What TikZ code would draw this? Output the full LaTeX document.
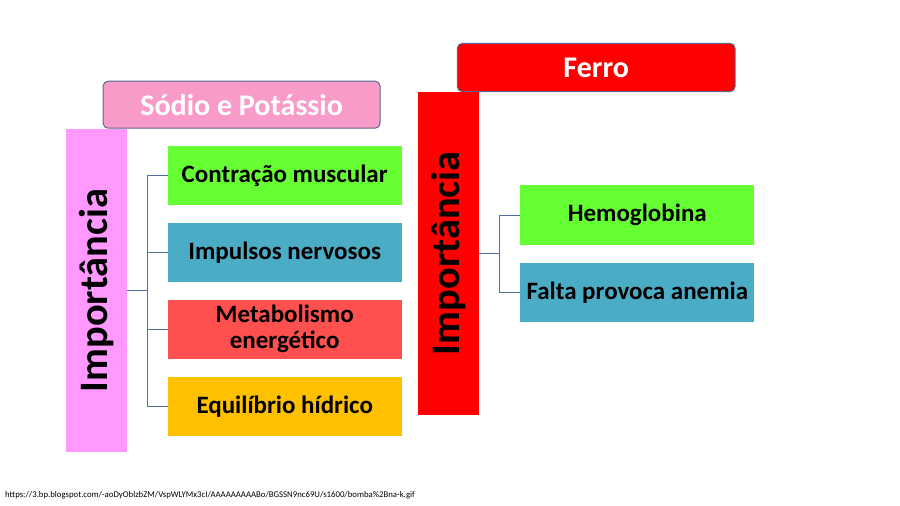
\documentclass[tikz,border=0pt]{standalone}
\usepackage{fontspec}
\setmainfont{Carlito}
\definecolor{pinkT}{HTML}{F99BC9}
\definecolor{pinkBar}{HTML}{FF99FF}
\definecolor{greenB}{HTML}{66FF33}
\definecolor{tealB}{HTML}{4BACC6}
\definecolor{redB}{HTML}{FF5050}
\definecolor{yellowB}{HTML}{FFC000}
\definecolor{redF}{HTML}{FF0000}
\definecolor{edgeT}{HTML}{56698E}
\definecolor{lineC}{HTML}{4F6D9E}
\tikzset{
  titlebox/.style={draw=edgeT, line width=1pt, rounded corners=5pt, text=white,
    font=\bfseries\fontsize{30}{32}\selectfont, inner sep=0pt},
  barbox/.style={rotate=90, minimum width=323pt, minimum height=60.7pt, inner sep=0pt,
    font=\bfseries\fontsize{40.4}{42}\selectfont, text=black},
  itembox/.style={minimum width=234pt, minimum height=59.5pt, inner sep=0pt, align=center,
    font=\bfseries\fontsize{25}{26}\selectfont, text=black},
  conn/.style={draw=lineC, line width=0.9pt}
}
\begin{document}
\begin{tikzpicture}[x=1pt,y=-1pt]
\useasboundingbox[fill=white] (0,0) rectangle (900,506);
% left group
\node[titlebox, fill=pinkT, minimum width=277pt, minimum height=47pt] (tS) at (241.6,104.7) {Sódio e Potássio};
\node[barbox, fill=pinkBar] (bL) at (96.3,290.5) {Importância};
\node[itembox, fill=greenB] (c1) at (284.7,175.5) {Contração muscular};
\node[itembox, fill=tealB] (c2) at (284.7,252.3) {Impulsos nervosos};
\node[itembox, fill=redB] (c3) at (284.7,329.3) {Metabolismo\\energético};
\node[itembox, fill=yellowB] (c4) at (284.7,406.5) {Equilíbrio hídrico};
\coordinate (jL) at (147.3,290.5);
\draw[conn] (bL.south) -- (jL);
\draw[conn] (jL |- c1.west) -- (jL |- c4.west);
\foreach \n in {c1,c2,c3,c4} \draw[conn] (jL |- \n.west) -- (\n.west);
% right group
\node[titlebox, fill=redF, minimum width=277.7pt, minimum height=48.4pt] (tF) at (596.2,67.5) {Ferro};
\node[barbox, fill=redF] (bR) at (448.6,253.3) {Importância};
\node[itembox, fill=greenB] (h1) at (637.3,215) {Hemoglobina};
\node[itembox, fill=tealB] (h2) at (637.3,292.3) {Falta provoca anemia};
\coordinate (jR) at (499.3,253.3);
\draw[conn] (bR.south) -- (jR);
\draw[conn] (jR |- h1.west) -- (jR |- h2.west);
\foreach \n in {h1,h2} \draw[conn] (jR |- \n.west) -- (\n.west);
% footer
\node[anchor=west, inner sep=0pt, font=\fontsize{8.75}{9}\selectfont] (url) at (5,495.5)
  {https://3.bp.blogspot.com/-aoDyOblzbZM/VspWLYMx3cI/AAAAAAAAABo/BGSSN9nc69U/s1600/bomba\%2Bna-k.gif};
\end{tikzpicture}
\end{document}
